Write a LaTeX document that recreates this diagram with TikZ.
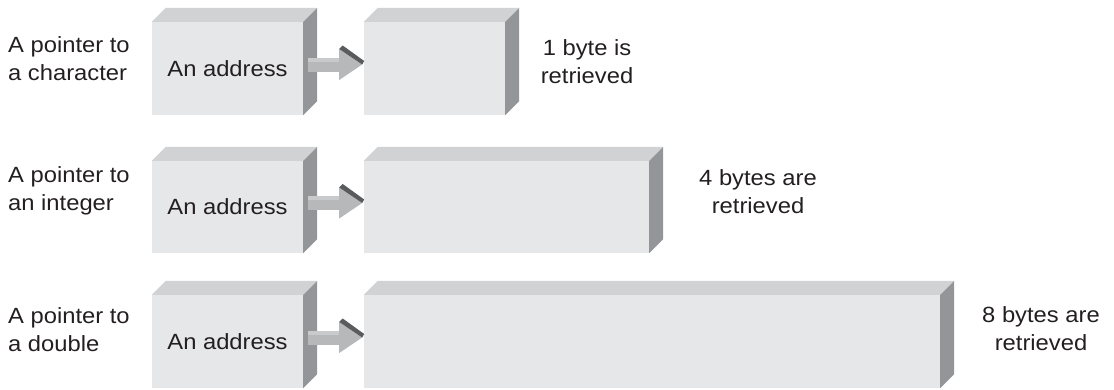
\documentclass[tikz,border=0pt]{standalone}
\usepackage{fontspec}
\setmainfont[FakeStretch=1.08]{Liberation Sans}
\definecolor{frontc}{HTML}{E6E7E8}
\definecolor{topc}{HTML}{D1D2D4}
\definecolor{sidec}{HTML}{939598}
\definecolor{arrc}{HTML}{B6B8BA}
\definecolor{arrlt}{HTML}{C9CACC}
\definecolor{arrdk}{HTML}{5A5B5D}
\definecolor{txt}{HTML}{231F20}
\newcommand\labfont{\fontsize{22}{28}\selectfont}
\newcommand\boxfaces[1]{%
  \fill[topc] (#1.north west) -- ++(14,-14) -- ([xshift=14pt,yshift=14pt]#1.north east) -- (#1.north east) -- cycle;
  \fill[sidec] (#1.north east) -- ++(14,-14) -- ([xshift=14pt,yshift=14pt]#1.south east) -- (#1.south east) -- cycle;}
\newcommand\ptrarrow[2]{%
  \begin{scope}[shift={([yshift=4pt]#1.east)}]
    \fill[arrlt] (5,-7) rectangle (37,-3);
    \fill[arrc] (5,-3) rectangle (37,7);
    \fill[arrc] (36,-15.5) -- (59,0) -- (36,15.5) -- cycle;
    \fill[arrdk] (36,-15.5) -- (59,0) -- (61,-3.5) -- (39.5,-19) -- cycle;
  \end{scope}}
\begin{document}
\begin{tikzpicture}[x=1pt,y=-1pt,
  face/.style={fill=frontc, draw=none, inner sep=0pt, text=txt, font=\labfont},
  lbl/.style={text=txt, font=\labfont, inner sep=0pt}]
\useasboundingbox (0,0) rectangle (1114,389);
% row 1
\node[face, minimum width=151pt, minimum height=93pt] (a1) at (227.5,68.5) {An address};
\node[face, minimum width=141pt, minimum height=93pt] (b1) at (434.5,68.5) {};
% row 2
\node[face, minimum width=151pt, minimum height=92pt] (a2) at (227.5,207) {An address};
\node[face, minimum width=285pt, minimum height=92pt] (b2) at (506.5,207) {};
% row 3
\node[face, minimum width=151pt, minimum height=93pt] (a3) at (227.5,341.5) {An address};
\node[face, minimum width=576pt, minimum height=93pt] (b3) at (652,341.5) {};
\boxfaces{a1}\boxfaces{b1}
\boxfaces{a2}\boxfaces{b2}
\boxfaces{a3}\boxfaces{b3}
\ptrarrow{a1}{b1}
\ptrarrow{a2}{b2}
\ptrarrow{a3}{b3}
% left labels (anchor = baseline of last line)
\node[lbl, align=left, anchor=base west] (l1) at (8,80) {A pointer to\\a character};
\node[lbl, align=left, anchor=base west] (l2) at (8,210) {A pointer to\\an integer};
\node[lbl, align=left, anchor=base west] (l3) at (8,351) {A pointer to\\a double};
% right labels
\node[lbl, align=center, anchor=base] (r1) at (587,83) {1 byte is\\retrieved};
\node[lbl, align=center, anchor=base] (r2) at (758,213) {4 bytes are\\retrieved};
\node[lbl, align=center, anchor=base] (r3) at (1041,350) {8 bytes are\\retrieved};
\end{tikzpicture}
\end{document}
